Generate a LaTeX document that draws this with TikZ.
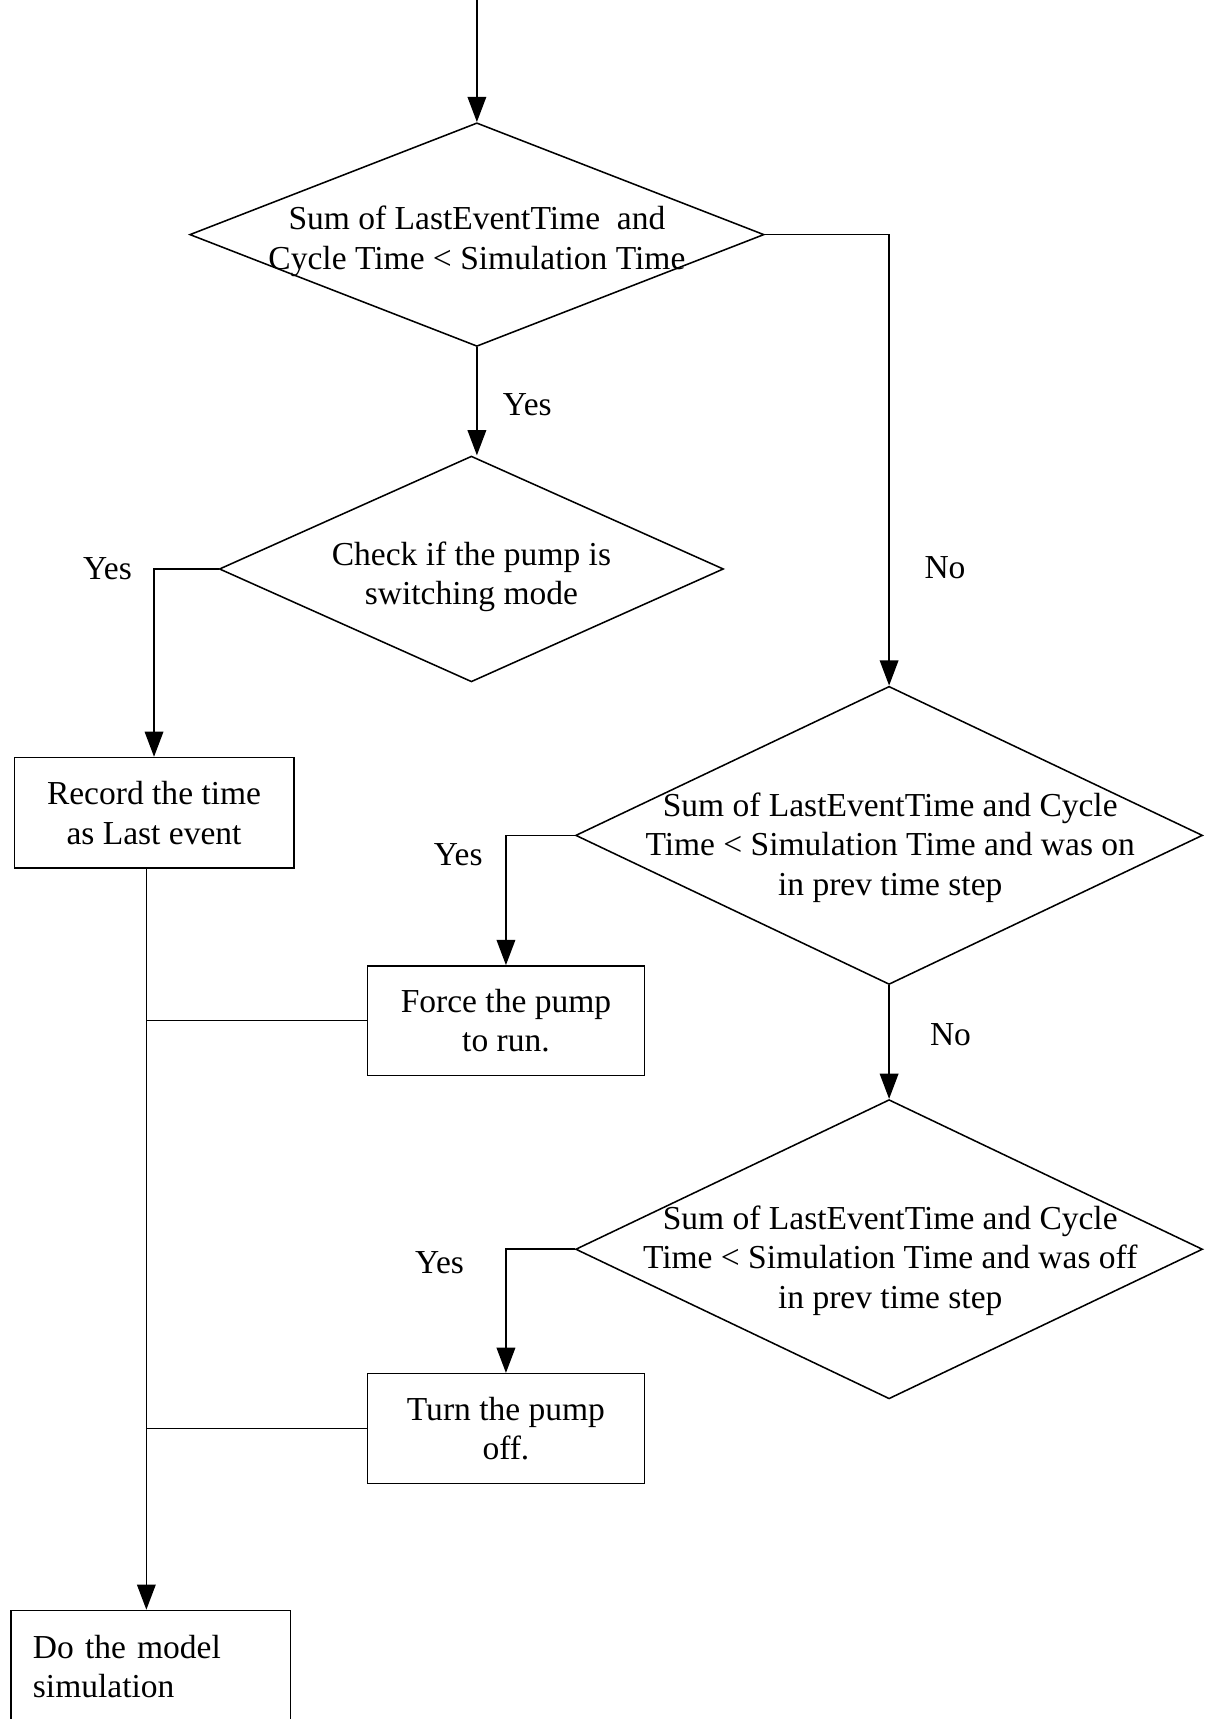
\documentclass[tikz,border=0pt]{standalone}
\usepackage{fontspec}
\setmainfont{Liberation Serif}
\usetikzlibrary{shapes.geometric, arrows.meta}
\tikzstyle{decisionblock} = [draw, diamond, inner sep=0pt]
\tikzstyle{processblock} = [draw, rectangle, align=center, inner sep=2pt]
\tikzstyle{textblock} = [align=center, inner sep=0pt]

\begin{document}
\begin{tikzpicture}[x=0.02cm, y=-0.02cm, line width=0.8pt,
    >={Triangle[length=0.46cm, width=0.34cm]},
    font=\fontsize{17.4}{20.5}\selectfont]
      \useasboundingbox (0,0) rectangle (1104,1568);
      \coordinate (start) at (435,0);

      \node[decisionblock, minimum width=10.48cm, minimum height=4.08cm] (check1) at (435,214) {};
      \node[textblock] (check1txt) at (435,220) {Sum of LastEventTime~ and\\Cycle Time < Simulation Time};
      \node[decisionblock, minimum width=9.2cm, minimum height=4.12cm] (check2) at (430,519) {};
      \node[textblock] (check2txt) at (430,526) {Check if the pump is\\switching mode};
      \node[decisionblock, minimum width=11.44cm, minimum height=5.44cm] (check3) at (811,762) {};
      \node[textblock] (check3txt) at (812,773) {Sum of LastEventTime and Cycle\\Time < Simulation Time and was on\\in prev time step};
      \node[decisionblock, minimum width=11.44cm, minimum height=5.46cm] (check4) at (811,1139.5) {};
      \node[textblock] (check4txt) at (812,1150) {Sum of LastEventTime and Cycle\\Time < Simulation Time and was off\\in prev time step};

      \node[processblock, minimum width=5.1cm, minimum height=2.02cm] (record) at (140.5,741.5) {Record the time\\as Last event};
      \node[processblock, minimum width=5.06cm, minimum height=2cm] (forcerun) at (461.5,931) {Force the pump\\to run.};
      \node[processblock, minimum width=5.06cm, minimum height=2cm] (pumpoff) at (461.5,1303) {Turn the pump\\off.};
      \node[processblock, align=left, minimum width=5.1cm, minimum height=2.04cm, text width=4.3cm, inner xsep=0.4cm] (simulate) at (137.5,1520) {Do the model\\simulation};

      \node (yes1) at (481,369) {Yes};
      \node (no1) at (862,518) {No};
      \node (yes2) at (98,519) {Yes};
      \node (yes3) at (418,780) {Yes};
      \node (no2) at (867,944) {No};
      \node (yes4) at (401,1152) {Yes};

      \draw[->] (start) -- (check1.north);
      \draw[->] (check1.south) -- (check1.south |- check2.north);
      \draw[->] (check1.east) -| (check3.north);
      \draw[->] (check2.west) -| (record.north);
      \draw[->] (check3.west) -| (forcerun.north);
      \draw[->] (check3.south) -- (check4.north);
      \draw[->] (check4.west) -| (pumpoff.north);
      \coordinate (bus) at ([xshift=-0.14cm]record.south);
      \draw[->] (bus) -- (bus |- simulate.north);
      \draw (forcerun.west) -- (forcerun.west -| bus);
      \draw (pumpoff.west) -- (pumpoff.west -| bus);
\end{tikzpicture}
\end{document}
